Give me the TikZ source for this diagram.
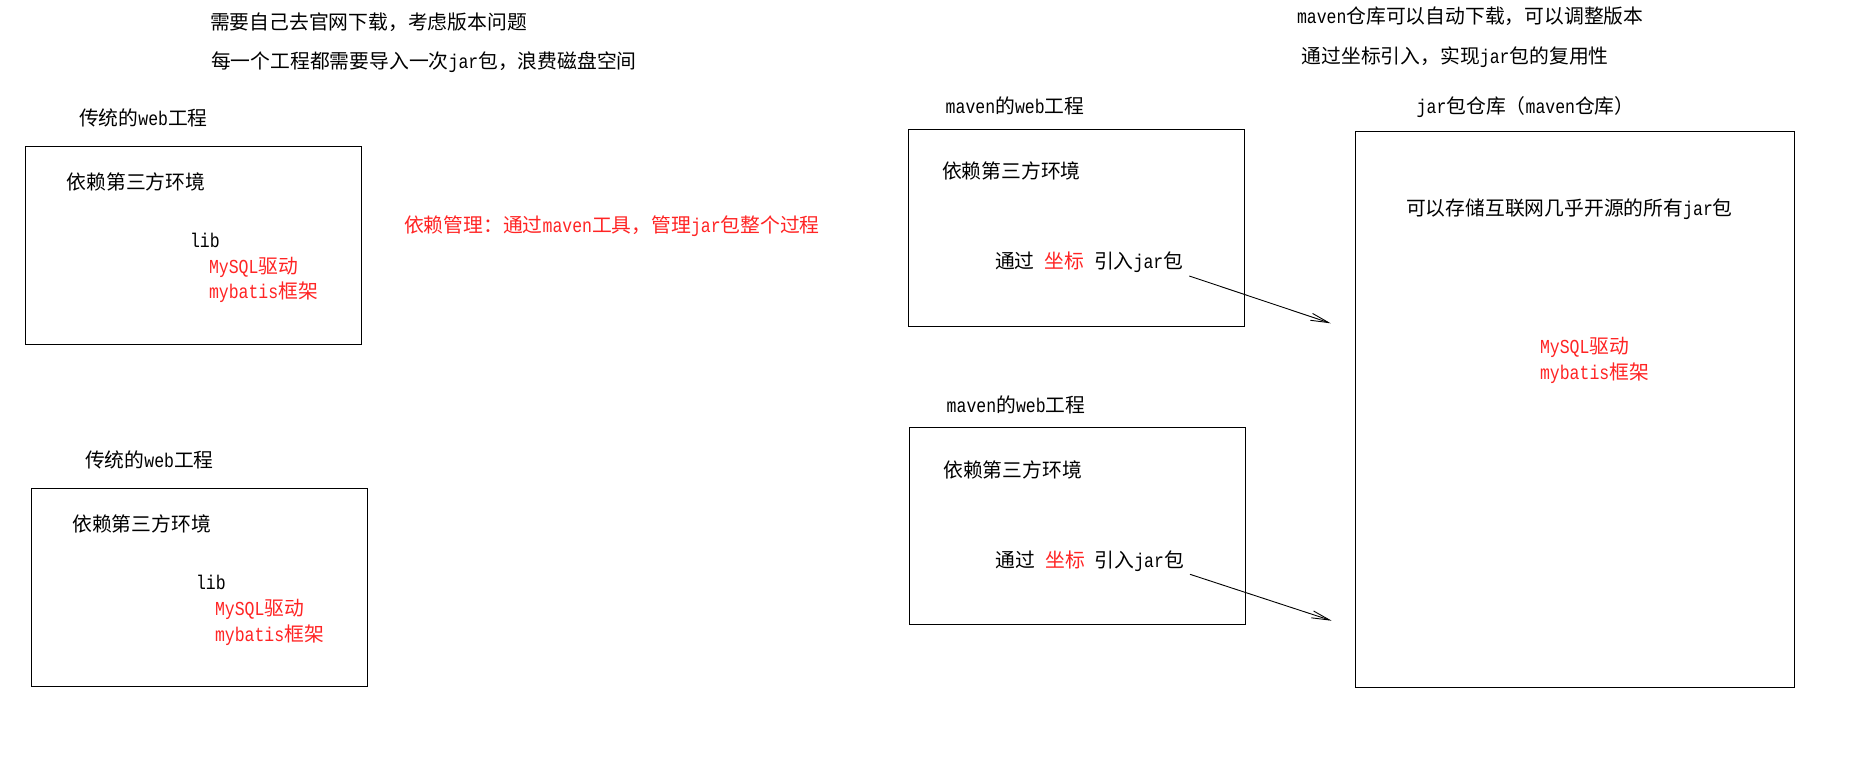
\documentclass[tikz,border=0pt]{standalone}
\usepackage{fontspec}
\setmainfont{Noto Sans CJK SC}
\newfontfamily\latfont{Liberation Mono}[FakeStretch=0.833]
\newcommand\mylat[1]{{\latfont #1}}
\usetikzlibrary{arrows.meta}
\definecolor{myred}{HTML}{FF2424}
\tikzset{
  txt/.style={anchor=west, inner sep=0pt, outer sep=0pt, text=black,
    font=\fontsize{9.9pt}{12pt}\selectfont, text height=0.8em, text depth=0.1em},
  redtxt/.style={txt, text=myred},
  box/.style={draw=black, line width=0.7pt, inner sep=0pt, outer sep=0pt, anchor=north west},
  arr/.style={draw=black, line width=0.45pt, -{Straight Barb[length=9pt,width=3.6pt]}}
}
\begin{document}
\begin{tikzpicture}[x=0.5pt,y=-0.5pt]
\fill[white] (0,0) rectangle (1855,757);
\useasboundingbox (0,0) rectangle (1855,757);

% top-left notes
\node[txt] (n1) at (210,22.7) {需要自己去官网下载，考虑版本问题};
\node[txt] (n2) at (211,61.7) {每一个工程都需要导入一次\mylat{jar}包，浪费磁盘空间};

% traditional project 1
\node[txt] (l1) at (79,118.3) {传统的\mylat{web}工程};
\node[box, minimum width=168pt, minimum height=98.8pt] (b1) at (25.3,146.7) {};
\node[txt] (b1a) at (66.7,182.3) {依赖第三方环境};
\node[txt] (b1b) at (190,240.7) {\mylat{lib}};
\node[redtxt] (b1c) at (209,266) {\mylat{MySQL}驱动};
\node[redtxt] (b1d) at (209,291.7) {\mylat{mybatis}框架};

% dependency management note
\node[redtxt] (dm) at (404,225) {依赖管理：通过\mylat{maven}工具，管理\mylat{jar}包整个过程};

% traditional project 2
\node[txt] (l2) at (85,460) {传统的\mylat{web}工程};
\node[box, minimum width=168pt, minimum height=98.9pt] (b2) at (31.3,488.5) {};
\node[txt] (b2a) at (72.3,524) {依赖第三方环境};
\node[txt] (b2b) at (196,582.7) {\mylat{lib}};
\node[redtxt] (b2c) at (215,608.3) {\mylat{MySQL}驱动};
\node[redtxt] (b2d) at (215,634) {\mylat{mybatis}框架};

% top-right notes
\node[txt] (n3) at (1297,16.7) {\mylat{maven}仓库可以自动下载，可以调整版本};
\node[txt] (n4) at (1301.7,56) {通过坐标引入，实现\mylat{jar}包的复用性};

% maven project 1
\node[txt] (m1l) at (945.7,106.7) {\mylat{maven}的\mylat{web}工程};
\node[box, minimum width=168pt, minimum height=98.5pt] (m1) at (908.3,129.3) {};
\node[txt] (m1a) at (942,171.7) {依赖第三方环境};
\node[txt] (m1b) at (995,261.7) {通过\mylat{\ }\textcolor{myred}{坐标}\mylat{\ }引入\mylat{jar}包};

% maven project 2
\node[txt] (m2l) at (946.7,405) {\mylat{maven}的\mylat{web}工程};
\node[box, minimum width=168.2pt, minimum height=98.3pt] (m2) at (909.3,427.7) {};
\node[txt] (m2a) at (943.3,470) {依赖第三方环境};
\node[txt] (m2b) at (995.7,560) {通过\mylat{\ }\textcolor{myred}{坐标}\mylat{\ }引入\mylat{jar}包};

% repository
\node[txt] (rl) at (1416.7,106) {\mylat{jar}包仓库（\mylat{maven}仓库）};
\node[box, minimum width=219.5pt, minimum height=277.8pt] (r) at (1355.3,131.7) {};
\node[txt] (ra) at (1406,208.3) {可以存储互联网几乎开源的所有\mylat{jar}包};
\node[redtxt] (rb) at (1540,346.7) {\mylat{MySQL}驱动};
\node[redtxt] (rc) at (1540,372.7) {\mylat{mybatis}框架};

% arrows
\coordinate (a1s) at (1189.3,276);
\coordinate (a1e) at (1330.7,323.3);
\coordinate (a2s) at (1190,574.3);
\coordinate (a2e) at (1331.7,620.7);
\draw[arr] (a1s) -- (a1e);
\draw[arr] (a2s) -- (a2e);
\end{tikzpicture}
\end{document}
